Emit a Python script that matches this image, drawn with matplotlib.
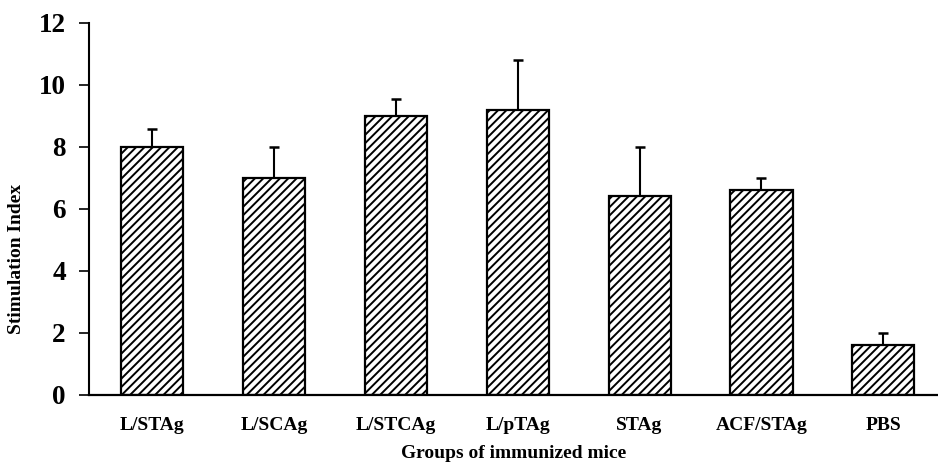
import matplotlib
matplotlib.use('Agg')
import matplotlib.pyplot as plt
import numpy as np

plt.rcParams['font.family'] = ['Liberation Serif', 'DejaVu Serif']
plt.rcParams['font.weight'] = 'bold'
plt.rcParams['hatch.linewidth'] = 1.4

# groups and stimulation index (mean, upper SD)
groups = ['L/STAg', 'L/SCAg', 'L/STCAg', 'L/pTAg', 'STAg', 'ACF/STAg', 'PBS']
means = [8.0, 7.0, 9.0, 9.2, 6.4, 6.6, 1.6]
sd = [0.57, 1.0, 0.55, 1.6, 1.6, 0.38, 0.4]

fig = plt.figure(figsize=(9.38, 4.63), dpi=100)
ax = fig.add_axes([0.0954, 0.1469, 0.9046, 0.8041])

x = np.arange(len(groups))
ax.bar(x, means, width=0.51, color='white', edgecolor='black',
       linewidth=1.6, hatch='////', zorder=2)
ax.errorbar(x, means, yerr=[np.zeros(len(sd)), sd], fmt='none',
            ecolor='black', elinewidth=1.5, capsize=3.8, capthick=1.8, zorder=1)

ax.set_xlim(-0.513, 6.448)
ax.set_ylim(0, 12)
ax.set_yticks([0, 2, 4, 6, 8, 10, 12])
ax.set_xticks(x)
ax.set_xticklabels(groups)

ax.spines['top'].set_visible(False)
ax.spines['right'].set_visible(False)
ax.spines['left'].set_linewidth(1.5)
ax.spines['bottom'].set_linewidth(1.6)

ax.tick_params(axis='y', direction='out', length=7, width=1.2, pad=10,
               labelsize=19.5)
ax.tick_params(axis='x', length=0, pad=16, labelsize=14)

ax.set_xlabel('Groups of immunized mice', fontsize=14, fontweight='bold',
              labelpad=7.5)
ax.set_ylabel('Stimulation Index', fontsize=14, fontweight='bold')
ax.yaxis.set_label_coords(-0.076, 0.365)

fig.savefig('out.png', dpi=100)
